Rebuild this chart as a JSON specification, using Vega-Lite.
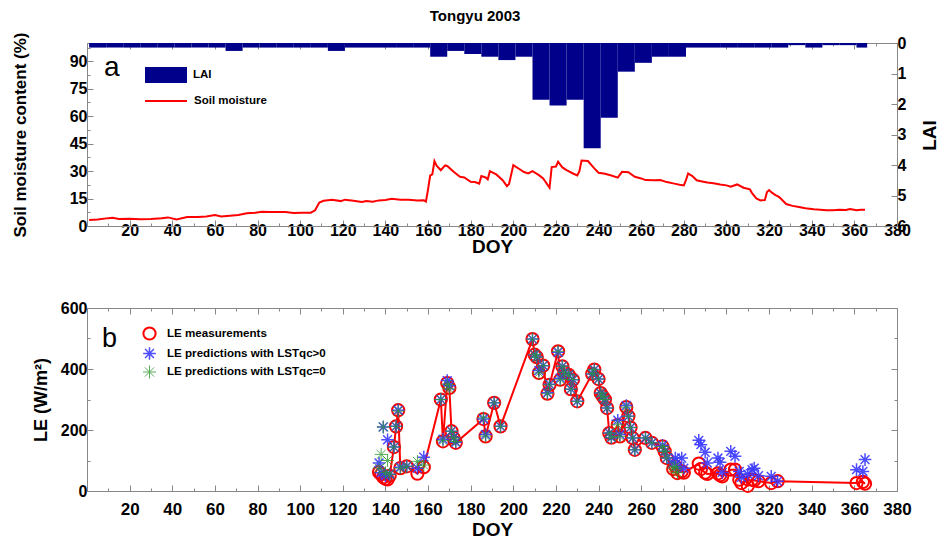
{
  "$schema": "https://vega.github.io/schema/vega-lite/v6.json",
  "padding": {"left": 10, "top": 8, "right": 0, "bottom": 2},
  "title": {"text": "Tongyu 2003", "font": "Liberation Sans", "fontSize": 15, "fontWeight": "bold", "color": "black", "anchor": "middle", "offset": 8},
  "config": {
    "view": {"stroke": "#888888"},
    "axis": {"grid": false, "domainColor": "#888888", "tickColor": "#888888", "labelFont": "Liberation Sans", "labelFontWeight": "bold", "labelColor": "black", "titleFont": "Liberation Sans", "titleFontWeight": "bold", "titleColor": "black", "labelFlush": false, "labelOverlap": false},
    "legend": {"labelFont": "Liberation Sans", "labelFontWeight": "bold", "labelColor": "black", "titleFont": "Liberation Sans", "titleColor": "black", "padding": 0}
  },
  "spacing": 42,
  "datasets": {
    "lai": [
      {"start": 1, "end": 9, "lai": 0.15}, {"start": 9, "end": 17, "lai": 0.15}, {"start": 17, "end": 25, "lai": 0.15}, {"start": 25, "end": 33, "lai": 0.15},
      {"start": 33, "end": 41, "lai": 0.15}, {"start": 41, "end": 49, "lai": 0.15}, {"start": 49, "end": 57, "lai": 0.15}, {"start": 57, "end": 65, "lai": 0.15},
      {"start": 65, "end": 73, "lai": 0.26}, {"start": 73, "end": 81, "lai": 0.15}, {"start": 81, "end": 89, "lai": 0.15}, {"start": 89, "end": 97, "lai": 0.15},
      {"start": 97, "end": 105, "lai": 0.15}, {"start": 105, "end": 113, "lai": 0.15}, {"start": 113, "end": 121, "lai": 0.26}, {"start": 121, "end": 129, "lai": 0.15},
      {"start": 129, "end": 137, "lai": 0.15}, {"start": 137, "end": 145, "lai": 0.15}, {"start": 145, "end": 153, "lai": 0.15}, {"start": 153, "end": 161, "lai": 0.15},
      {"start": 161, "end": 169, "lai": 0.45}, {"start": 169, "end": 177, "lai": 0.26}, {"start": 177, "end": 185, "lai": 0.36}, {"start": 185, "end": 193, "lai": 0.45},
      {"start": 193, "end": 201, "lai": 0.56}, {"start": 201, "end": 209, "lai": 0.45}, {"start": 209, "end": 217, "lai": 1.86}, {"start": 217, "end": 225, "lai": 2.05},
      {"start": 225, "end": 233, "lai": 1.86}, {"start": 233, "end": 241, "lai": 3.45}, {"start": 241, "end": 249, "lai": 2.45}, {"start": 249, "end": 257, "lai": 0.94},
      {"start": 257, "end": 265, "lai": 0.65}, {"start": 265, "end": 273, "lai": 0.45}, {"start": 273, "end": 281, "lai": 0.45}, {"start": 281, "end": 289, "lai": 0.15},
      {"start": 289, "end": 297, "lai": 0.15}, {"start": 297, "end": 305, "lai": 0.15}, {"start": 305, "end": 313, "lai": 0.15}, {"start": 313, "end": 321, "lai": 0.15},
      {"start": 321, "end": 329, "lai": 0.15}, {"start": 329, "end": 337, "lai": 0.07}, {"start": 337, "end": 345, "lai": 0.15}, {"start": 345, "end": 353, "lai": 0.07},
      {"start": 353, "end": 361, "lai": 0.07}, {"start": 361, "end": 366, "lai": 0.15}
    ],
    "sm": [
      {"doy": 1, "sm": 3.3}, {"doy": 5, "sm": 3.5}, {"doy": 10, "sm": 4.3}, {"doy": 12, "sm": 4.5}, {"doy": 15, "sm": 3.8}, {"doy": 20, "sm": 3.9},
      {"doy": 25, "sm": 3.7}, {"doy": 30, "sm": 3.8}, {"doy": 35, "sm": 4.2}, {"doy": 38, "sm": 4.7}, {"doy": 42, "sm": 3.6}, {"doy": 47, "sm": 4.9},
      {"doy": 52, "sm": 4.9}, {"doy": 56, "sm": 5.2}, {"doy": 60, "sm": 6.0}, {"doy": 63, "sm": 5.2}, {"doy": 67, "sm": 5.6}, {"doy": 71, "sm": 6.0},
      {"doy": 75, "sm": 7.0}, {"doy": 79, "sm": 7.3}, {"doy": 82, "sm": 7.8}, {"doy": 86, "sm": 7.6}, {"doy": 90, "sm": 7.7}, {"doy": 93, "sm": 7.6},
      {"doy": 97, "sm": 7.1}, {"doy": 101, "sm": 7.2}, {"doy": 105, "sm": 7.3}, {"doy": 107, "sm": 8.6}, {"doy": 109, "sm": 12.8}, {"doy": 111, "sm": 13.8},
      {"doy": 115, "sm": 14.3}, {"doy": 119, "sm": 13.6}, {"doy": 121, "sm": 14.4}, {"doy": 125, "sm": 13.8}, {"doy": 129, "sm": 13.1}, {"doy": 131, "sm": 13.6},
      {"doy": 134, "sm": 13.3}, {"doy": 137, "sm": 14.0}, {"doy": 140, "sm": 14.2}, {"doy": 143, "sm": 14.9}, {"doy": 147, "sm": 14.4}, {"doy": 151, "sm": 14.3},
      {"doy": 155, "sm": 14.0}, {"doy": 158, "sm": 14.1}, {"doy": 159, "sm": 13.3}, {"doy": 160, "sm": 20.0}, {"doy": 161, "sm": 27.6}, {"doy": 162, "sm": 28.2},
      {"doy": 163, "sm": 35.5}, {"doy": 164, "sm": 33.0}, {"doy": 166, "sm": 30.5}, {"doy": 168, "sm": 33.1}, {"doy": 169, "sm": 32.8}, {"doy": 172, "sm": 29.6},
      {"doy": 175, "sm": 26.9}, {"doy": 177, "sm": 26.5}, {"doy": 180, "sm": 24.2}, {"doy": 182, "sm": 24.0}, {"doy": 184, "sm": 23.1}, {"doy": 185, "sm": 27.3},
      {"doy": 187, "sm": 26.5}, {"doy": 188, "sm": 25.5}, {"doy": 189, "sm": 30.0}, {"doy": 192, "sm": 28.2}, {"doy": 195, "sm": 25.0}, {"doy": 197, "sm": 21.8},
      {"doy": 198, "sm": 23.0}, {"doy": 200, "sm": 33.3}, {"doy": 203, "sm": 31.0}, {"doy": 205, "sm": 29.5}, {"doy": 207, "sm": 28.7}, {"doy": 209, "sm": 30.0},
      {"doy": 212, "sm": 27.8}, {"doy": 214, "sm": 26.0}, {"doy": 217, "sm": 20.9}, {"doy": 218, "sm": 32.2}, {"doy": 220, "sm": 32.5}, {"doy": 221, "sm": 35.1},
      {"doy": 223, "sm": 32.0}, {"doy": 225, "sm": 30.5}, {"doy": 228, "sm": 28.7}, {"doy": 230, "sm": 27.6}, {"doy": 231, "sm": 30.0}, {"doy": 232, "sm": 35.8},
      {"doy": 235, "sm": 35.5}, {"doy": 238, "sm": 31.5}, {"doy": 240, "sm": 29.1}, {"doy": 243, "sm": 28.5}, {"doy": 246, "sm": 27.6}, {"doy": 249, "sm": 26.4},
      {"doy": 251, "sm": 29.6}, {"doy": 254, "sm": 29.4}, {"doy": 257, "sm": 26.9}, {"doy": 260, "sm": 26.0}, {"doy": 262, "sm": 25.1}, {"doy": 266, "sm": 25.0},
      {"doy": 269, "sm": 25.1}, {"doy": 272, "sm": 24.0}, {"doy": 275, "sm": 23.3}, {"doy": 278, "sm": 22.6}, {"doy": 280, "sm": 22.2}, {"doy": 281, "sm": 25.0},
      {"doy": 282, "sm": 28.7}, {"doy": 284, "sm": 27.3}, {"doy": 286, "sm": 25.0}, {"doy": 288, "sm": 24.5}, {"doy": 291, "sm": 23.8}, {"doy": 294, "sm": 23.3},
      {"doy": 297, "sm": 22.7}, {"doy": 300, "sm": 22.2}, {"doy": 302, "sm": 21.5}, {"doy": 305, "sm": 22.7}, {"doy": 308, "sm": 20.9}, {"doy": 311, "sm": 20.0},
      {"doy": 312, "sm": 18.0}, {"doy": 314, "sm": 15.1}, {"doy": 316, "sm": 14.0}, {"doy": 318, "sm": 14.2}, {"doy": 319, "sm": 18.5}, {"doy": 320, "sm": 19.6},
      {"doy": 321, "sm": 18.5}, {"doy": 323, "sm": 16.9}, {"doy": 324, "sm": 16.3}, {"doy": 325, "sm": 15.5}, {"doy": 328, "sm": 12.0}, {"doy": 331, "sm": 11.0},
      {"doy": 334, "sm": 10.4}, {"doy": 337, "sm": 9.7}, {"doy": 341, "sm": 9.1}, {"doy": 344, "sm": 8.9}, {"doy": 347, "sm": 8.6}, {"doy": 350, "sm": 8.6},
      {"doy": 353, "sm": 8.9}, {"doy": 356, "sm": 8.7}, {"doy": 358, "sm": 9.3}, {"doy": 361, "sm": 8.6}, {"doy": 363, "sm": 8.9}, {"doy": 365, "sm": 8.9}
    ],
    "le": [
      {"d":137,"s":"m","v":62},{"d":138,"s":"m","v":55},{"d":139,"s":"m","v":45},{"d":140,"s":"m","v":40},{"d":141,"s":"m","v":38},{"d":142,"s":"m","v":50},
      {"d":144,"s":"m","v":144},{"d":145,"s":"m","v":212},{"d":146,"s":"m","v":265},{"d":147,"s":"m","v":75},{"d":150,"s":"m","v":81},{"d":155,"s":"m","v":57},
      {"d":158,"s":"m","v":78},{"d":166,"s":"m","v":300},{"d":167,"s":"m","v":163},{"d":169,"s":"m","v":354},{"d":170,"s":"m","v":338},{"d":171,"s":"m","v":196},
      {"d":172,"s":"m","v":174},{"d":173,"s":"m","v":158},{"d":186,"s":"m","v":236},{"d":187,"s":"m","v":179},{"d":191,"s":"m","v":289},{"d":194,"s":"m","v":212},
      {"d":209,"s":"m","v":498},{"d":210,"s":"m","v":447},{"d":211,"s":"m","v":439},{"d":212,"s":"m","v":387},{"d":214,"s":"m","v":411},{"d":216,"s":"m","v":319},
      {"d":217,"s":"m","v":348},{"d":221,"s":"m","v":458},{"d":222,"s":"m","v":365},{"d":223,"s":"m","v":409},{"d":224,"s":"m","v":389},{"d":226,"s":"m","v":381},
      {"d":227,"s":"m","v":334},{"d":228,"s":"m","v":365},{"d":230,"s":"m","v":294},{"d":237,"s":"m","v":384},{"d":238,"s":"m","v":398},{"d":240,"s":"m","v":367},
      {"d":241,"s":"m","v":321},{"d":242,"s":"m","v":310},{"d":243,"s":"m","v":300},{"d":244,"s":"m","v":272},{"d":245,"s":"m","v":190},{"d":246,"s":"m","v":175},
      {"d":249,"s":"m","v":217},{"d":250,"s":"m","v":179},{"d":253,"s":"m","v":275},{"d":254,"s":"m","v":245},{"d":255,"s":"m","v":208},{"d":256,"s":"m","v":174},
      {"d":257,"s":"m","v":135},{"d":262,"s":"m","v":174},{"d":265,"s":"m","v":158},{"d":270,"s":"m","v":146},{"d":271,"s":"m","v":130},{"d":272,"s":"m","v":108},
      {"d":275,"s":"m","v":72},{"d":276,"s":"m","v":81},{"d":277,"s":"m","v":59},{"d":279,"s":"m","v":64},{"d":280,"s":"m","v":60},{"d":287,"s":"m","v":90},
      {"d":288,"s":"m","v":72},{"d":290,"s":"m","v":60},{"d":291,"s":"m","v":56},{"d":296,"s":"m","v":58},{"d":297,"s":"m","v":52},{"d":298,"s":"m","v":48},
      {"d":302,"s":"m","v":70},{"d":304,"s":"m","v":70},{"d":306,"s":"m","v":37},{"d":307,"s":"m","v":26},{"d":310,"s":"m","v":17},{"d":312,"s":"m","v":37},
      {"d":313,"s":"m","v":35},{"d":315,"s":"m","v":32},{"d":321,"s":"m","v":26},{"d":324,"s":"m","v":32},{"d":361,"s":"m","v":26},{"d":364,"s":"m","v":30},
      {"d":365,"s":"m","v":24},
      {"d":137,"s":"p","v":92},{"d":138,"s":"p","v":60},{"d":139,"s":"p","v":210},{"d":140,"s":"p","v":50},{"d":141,"s":"p","v":168},{"d":142,"s":"p","v":55},
      {"d":144,"s":"p","v":144},{"d":145,"s":"p","v":212},{"d":146,"s":"p","v":265},{"d":147,"s":"p","v":78},{"d":150,"s":"p","v":81},{"d":155,"s":"p","v":75},
      {"d":158,"s":"p","v":111},{"d":166,"s":"p","v":300},{"d":167,"s":"p","v":170},{"d":169,"s":"p","v":362},{"d":170,"s":"p","v":345},{"d":171,"s":"p","v":196},
      {"d":172,"s":"p","v":176},{"d":173,"s":"p","v":160},{"d":186,"s":"p","v":236},{"d":187,"s":"p","v":185},{"d":191,"s":"p","v":289},{"d":194,"s":"p","v":212},
      {"d":209,"s":"p","v":498},{"d":210,"s":"p","v":447},{"d":211,"s":"p","v":439},{"d":212,"s":"p","v":395},{"d":214,"s":"p","v":411},{"d":216,"s":"p","v":322},
      {"d":217,"s":"p","v":350},{"d":221,"s":"p","v":455},{"d":222,"s":"p","v":370},{"d":223,"s":"p","v":409},{"d":224,"s":"p","v":389},{"d":226,"s":"p","v":381},
      {"d":227,"s":"p","v":334},{"d":228,"s":"p","v":365},{"d":230,"s":"p","v":294},{"d":237,"s":"p","v":384},{"d":238,"s":"p","v":398},{"d":240,"s":"p","v":367},
      {"d":241,"s":"p","v":321},{"d":242,"s":"p","v":310},{"d":243,"s":"p","v":300},{"d":244,"s":"p","v":272},{"d":245,"s":"p","v":190},{"d":246,"s":"p","v":175},
      {"d":249,"s":"p","v":232},{"d":250,"s":"p","v":185},{"d":253,"s":"p","v":280},{"d":254,"s":"p","v":245},{"d":255,"s":"p","v":208},{"d":256,"s":"p","v":174},
      {"d":257,"s":"p","v":135},{"d":262,"s":"p","v":174},{"d":265,"s":"p","v":158},{"d":270,"s":"p","v":150},{"d":271,"s":"p","v":130},{"d":272,"s":"p","v":108},
      {"d":275,"s":"p","v":92},{"d":276,"s":"p","v":108},{"d":277,"s":"p","v":80},{"d":279,"s":"p","v":108},{"d":280,"s":"p","v":75},{"d":287,"s":"p","v":166},
      {"d":288,"s":"p","v":152},{"d":290,"s":"p","v":127},{"d":291,"s":"p","v":92},{"d":296,"s":"p","v":108},{"d":297,"s":"p","v":94},{"d":298,"s":"p","v":61},
      {"d":302,"s":"p","v":130},{"d":304,"s":"p","v":114},{"d":306,"s":"p","v":64},{"d":307,"s":"p","v":45},{"d":310,"s":"p","v":55},{"d":312,"s":"p","v":70},
      {"d":313,"s":"p","v":75},{"d":315,"s":"p","v":50},{"d":321,"s":"p","v":48},{"d":324,"s":"p","v":32},{"d":361,"s":"p","v":70},{"d":364,"s":"p","v":64},
      {"d":365,"s":"p","v":103},
      {"d":137,"s":"z","v":75},{"d":138,"s":"z","v":120},{"d":139,"s":"z","v":210},{"d":140,"s":"z","v":60},{"d":141,"s":"z","v":100},{"d":142,"s":"z","v":55},
      {"d":144,"s":"z","v":144},{"d":145,"s":"z","v":212},{"d":146,"s":"z","v":262},{"d":147,"s":"z","v":75},{"d":150,"s":"z","v":81},{"d":155,"s":"z","v":97},
      {"d":158,"s":"z","v":85},{"d":166,"s":"z","v":300},{"d":167,"s":"z","v":165},{"d":169,"s":"z","v":350},{"d":170,"s":"z","v":335},{"d":171,"s":"z","v":196},
      {"d":172,"s":"z","v":174},{"d":173,"s":"z","v":162},{"d":186,"s":"z","v":240},{"d":187,"s":"z","v":180},{"d":191,"s":"z","v":289},{"d":194,"s":"z","v":212},
      {"d":209,"s":"z","v":498},{"d":210,"s":"z","v":447},{"d":211,"s":"z","v":439},{"d":212,"s":"z","v":387},{"d":214,"s":"z","v":411},{"d":216,"s":"z","v":319},
      {"d":217,"s":"z","v":348},{"d":221,"s":"z","v":458},{"d":222,"s":"z","v":365},{"d":223,"s":"z","v":409},{"d":224,"s":"z","v":389},{"d":226,"s":"z","v":381},
      {"d":227,"s":"z","v":334},{"d":228,"s":"z","v":365},{"d":230,"s":"z","v":294},{"d":237,"s":"z","v":384},{"d":238,"s":"z","v":398},{"d":240,"s":"z","v":367},
      {"d":241,"s":"z","v":321},{"d":242,"s":"z","v":310},{"d":243,"s":"z","v":300},{"d":244,"s":"z","v":272},{"d":245,"s":"z","v":190},{"d":246,"s":"z","v":175},
      {"d":249,"s":"z","v":217},{"d":250,"s":"z","v":179},{"d":253,"s":"z","v":275},{"d":254,"s":"z","v":245},{"d":255,"s":"z","v":208},{"d":256,"s":"z","v":174},
      {"d":257,"s":"z","v":135},{"d":262,"s":"z","v":174},{"d":265,"s":"z","v":158},{"d":270,"s":"z","v":146},{"d":271,"s":"z","v":130},{"d":272,"s":"z","v":108},
      {"d":275,"s":"z","v":75},{"d":276,"s":"z","v":80},{"d":277,"s":"z","v":60}
    ]
  },
  "vconcat": [
    {
      "width": 810,
      "height": 183,
      "layer": [
        {
          "data": {"name": "lai"},
          "mark": {"type": "bar"},
          "encoding": {
            "x": {"field": "start", "type": "quantitative", "scale": {"domain": [0, 380], "nice": false},
              "axis": {"orient": "top", "title": null, "labels": false, "values": [10,20,30,40,50,60,70,80,90,100,110,120,130,140,150,160,170,180,190,200,210,220,230,240,250,260,270,280,290,300,310,320,330,340,350,360,370],
                "tickSize": {"condition": {"test": "datum.value % 20 === 0", "value": -6}, "value": -3}}},
            "x2": {"field": "end"},
            "y": {"field": "lai", "type": "quantitative", "scale": {"domain": [0, 6], "reverse": true, "nice": false},
              "axis": {"orient": "right", "title": "LAI", "titleFontSize": 19, "titleAngle": -90, "titleX": 32, "titleY": 92, "titleAlign": "center", "titleBaseline": "middle", "labelFontSize": 16, "labelPadding": 6, "format": "d",
                "values": [0,0.5,1,1.5,2,2.5,3,3.5,4,4.5,5,5.5,6], "labelExpr": "datum.value % 1 === 0 ? datum.label : ''",
                "tickSize": {"condition": {"test": "datum.value % 1 === 0", "value": -6}, "value": -3}}},
            "y2": {"datum": 0},
            "fill": {"datum": "LAI", "scale": {"range": ["#00008b"]},
              "legend": {"title": "a", "orient": "none", "legendX": 17, "legendY": 11, "titleOrient": "left", "titleFontSize": 28, "titleFontWeight": "normal", "titlePadding": 25,
                "symbolType": "M-1,-0.38H1V0.38H-1Z", "symbolSize": 1764, "symbolStrokeWidth": 0, "labelFontSize": 11.5, "labelOffset": 6}}
          }
        },
        {
          "data": {"name": "sm"},
          "mark": {"type": "line", "strokeWidth": 2},
          "encoding": {
            "x": {"field": "doy", "type": "quantitative", "scale": {"domain": [0, 380], "nice": false},
              "axis": {"orient": "bottom", "title": "DOY", "titleFontSize": 19, "titlePadding": -4, "labelFontSize": 16, "labelPadding": 2,
                "values": [10,20,30,40,50,60,70,80,90,100,110,120,130,140,150,160,170,180,190,200,210,220,230,240,250,260,270,280,290,300,310,320,330,340,350,360,370,380],
                "labelExpr": "datum.value % 20 === 0 ? datum.label : ''",
                "tickSize": {"condition": {"test": "datum.value % 20 === 0", "value": -6}, "value": -3}}},
            "y": {"field": "sm", "type": "quantitative", "scale": {"domain": [0, 100], "nice": false},
              "axis": {"orient": "left", "title": "Soil moisture content (%)", "titleFontSize": 17, "titlePadding": 40, "labelFontSize": 16, "labelPadding": 6,
                "values": [0,7.5,15,22.5,30,37.5,45,52.5,60,67.5,75,82.5,90,97.5], "labelExpr": "datum.value % 15 === 0 ? datum.label : ''",
                "tickSize": {"condition": {"test": "datum.value % 15 === 0", "value": -6}, "value": -3}}},
            "stroke": {"datum": "Soil moisture", "scale": {"range": ["#ff0000"]},
              "legend": {"title": null, "orient": "none", "legendX": 57, "legendY": 36, "symbolType": "stroke", "symbolSize": 1764, "symbolStrokeWidth": 2, "labelFontSize": 11.5, "labelOffset": 6}}
          }
        }
      ],
      "resolve": {"scale": {"y": "independent"}, "axis": {"x": "independent"}}
    },
    {
      "width": 810,
      "height": 183,
      "data": {"name": "le"},
      "layer": [
        {
          "transform": [{"filter": "datum.s === 'm'"}],
          "mark": {"type": "line", "color": "#ff0000", "strokeWidth": 2},
          "encoding": {
            "x": {"field": "d", "type": "quantitative", "scale": {"domain": [0, 380], "nice": false},
              "axis": {"orient": "bottom", "title": "DOY", "titleFontSize": 19, "titlePadding": 0, "labelFontSize": 17, "labelPadding": 16,
                "values": [10,20,30,40,50,60,70,80,90,100,110,120,130,140,150,160,170,180,190,200,210,220,230,240,250,260,270,280,290,300,310,320,330,340,350,360,370,380],
                "labelExpr": "datum.value % 20 === 0 ? datum.label : ''",
                "tickSize": {"condition": {"test": "datum.value % 20 === 0", "value": -6}, "value": -3}}},
            "y": {"field": "v", "type": "quantitative", "scale": {"domain": [0, 600], "nice": false},
              "axis": {"orient": "left", "title": "LE (W/m²)", "titleFontSize": 18, "titlePadding": 10, "labelFontSize": 16, "labelPadding": 6,
                "values": [0,100,200,300,400,500,600], "labelExpr": "datum.value % 200 === 0 ? datum.label : ''",
                "tickSize": {"condition": {"test": "datum.value % 200 === 0", "value": -6}, "value": -3}}}
          }
        },
        {
          "mark": {"type": "point", "filled": false},
          "encoding": {
            "x": {"field": "d", "type": "quantitative", "scale": {"domain": [0, 380], "nice": false},
              "axis": {"orient": "top", "title": null, "labels": false, "values": [10,20,30,40,50,60,70,80,90,100,110,120,130,140,150,160,170,180,190,200,210,220,230,240,250,260,270,280,290,300,310,320,330,340,350,360,370],
                "tickSize": {"condition": {"test": "datum.value % 20 === 0", "value": -6}, "value": -3}}},
            "y": {"field": "v", "type": "quantitative", "scale": {"domain": [0, 600], "nice": false},
              "axis": {"orient": "right", "title": null, "labels": false, "values": [100,200,300,400,500],
                "tickSize": {"condition": {"test": "datum.value % 200 === 0", "value": -6}, "value": -3}}},
            "color": {"field": "s", "type": "nominal", "scale": {"domain": ["m", "p", "z"], "range": ["#ff0000", "#3a3aff", "#2f9a2f"]},
              "legend": {"title": "b", "orient": "none", "legendX": 15, "legendY": 283, "titleOrient": "left", "titleAnchor": "start", "titleBaseline": "top", "titleFontSize": 27, "titleFontWeight": "normal", "titlePadding": 24,
                "symbolSize": 169, "symbolStrokeWidth": 1.5, "labelFontSize": 11.6, "labelOffset": 10, "rowPadding": 0,
                "labelExpr": "datum.label === 'm' ? 'LE measurements' : datum.label === 'p' ? 'LE predictions with LSTqc>0' : 'LE predictions with LSTqc=0'"}},
            "shape": {"field": "s", "type": "nominal", "scale": {"domain": ["m", "p", "z"], "range": ["circle", "M-1,0L1,0M0,-1L0,1M-0.7,-0.7L0.7,0.7M-0.7,0.7L0.7,-0.7", "M-1,0L1,0M0,-1L0,1M-0.7,-0.7L0.7,0.7M-0.7,0.7L0.7,-0.7"]},
              "legend": {"title": "b", "orient": "none", "legendX": 15, "legendY": 283, "titleOrient": "left", "titleAnchor": "start", "titleBaseline": "top", "titleFontSize": 27, "titleFontWeight": "normal", "titlePadding": 24,
                "symbolSize": 169, "symbolStrokeWidth": 1.5, "labelFontSize": 11.6, "labelOffset": 10, "rowPadding": 0,
                "labelExpr": "datum.label === 'm' ? 'LE measurements' : datum.label === 'p' ? 'LE predictions with LSTqc>0' : 'LE predictions with LSTqc=0'"}},
            "strokeWidth": {"field": "s", "type": "nominal", "scale": {"domain": ["m", "p", "z"], "range": [2, 1, 1]}, "legend": null},
            "size": {"field": "s", "type": "nominal", "scale": {"domain": ["m", "p", "z"], "range": [150, 169, 169]}, "legend": null},
            "opacity": {"field": "s", "type": "nominal", "scale": {"domain": ["m", "p", "z"], "range": [1, 0.8, 0.85]}, "legend": null}
          }
        }
      ],
      "resolve": {"axis": {"x": "independent", "y": "independent"}}
    }
  ]
}
